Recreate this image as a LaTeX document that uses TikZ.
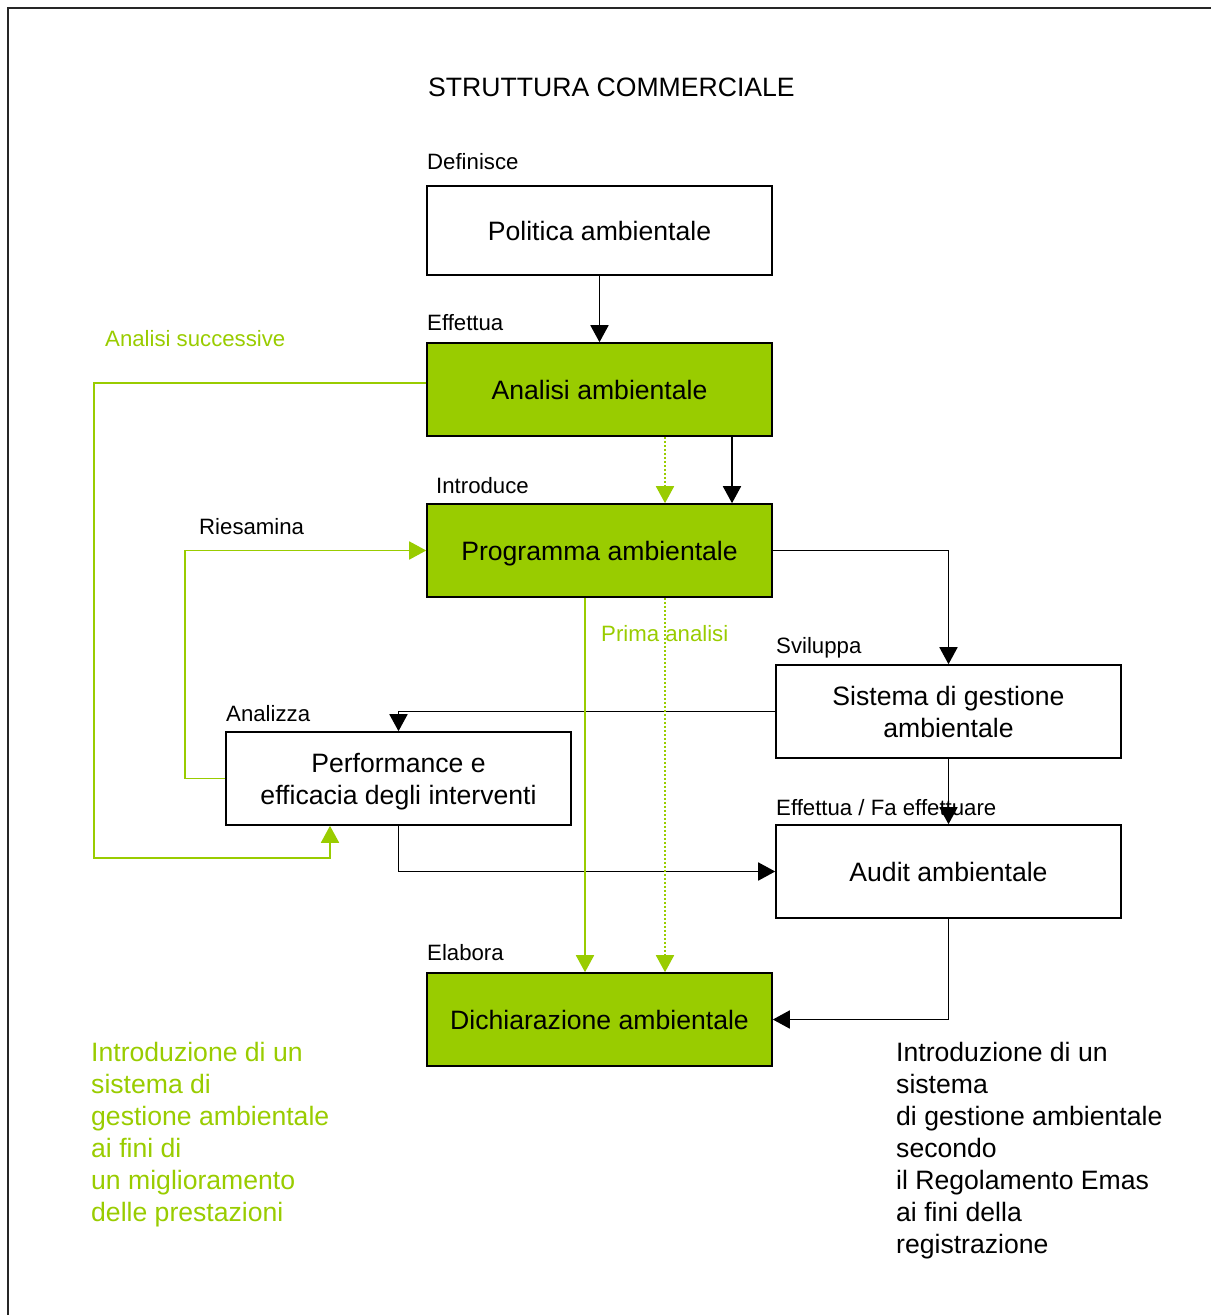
\documentclass[tikz,border=0pt]{standalone}
\usepackage{fontspec}
\setmainfont{Liberation Sans}
\usetikzlibrary{arrows.meta}
\definecolor{egreen}{HTML}{99CC00}
\begin{document}
\begin{tikzpicture}[x=1pt,y=-1pt,
  box/.style={draw=black,line width=1.6pt,minimum width=345pt,minimum height=92pt,inner sep=0pt,
    font=\fontsize{26.6}{32}\selectfont,align=center,text depth=0pt},
  gbox/.style={box,fill=egreen},
  lab/.style={anchor=base west,inner sep=0pt,font=\fontsize{22.2}{26}\selectfont},
  glab/.style={lab,text=egreen},
  arr/.style={line width=1.8pt,-{Triangle[width=18pt,length=17pt]}},
  garr/.style={arr,draw=egreen,color=egreen},
  gdot/.style={garr,dash pattern=on 2pt off 2pt},
  big/.style={inner sep=0pt,font=\fontsize{26.6}{32}\selectfont,align=left,anchor=north west}]
\useasboundingbox (0,0) rectangle (1211,1315);
\draw[line width=1.8pt,black!85] (8,1315) -- (8,8) -- (1211,8);

\node[anchor=base west,inner sep=0pt,font=\fontsize{26.6}{32}\selectfont] (title) at (428,96.5) {STRUTTURA COMMERCIALE};

\node[box,minimum height=89pt] (pol) at (599.5,230.5) {Politica ambientale};
\node[gbox,minimum height=93pt] (ana) at (599.5,389.5) {Analisi ambientale};
\node[gbox,minimum height=93pt] (prog) at (599.5,550.5) {Programma ambientale};
\node[box,minimum height=93pt] (sys) at (948.5,711.5) {Sistema di gestione\\ambientale};
\node[box,minimum height=93pt] (perf) at (398.5,778.5) {Performance e\\efficacia degli interventi};
\node[box,minimum height=93pt] (aud) at (948.5,871.5) {Audit ambientale};
\node[gbox,minimum height=93pt] (dich) at (599.5,1019.5) {Dichiarazione ambientale};

\node[lab] (l1) at (427,169) {Definisce};
\node[lab] (l2) at (427,330) {Effettua};
\node[lab] (l3) at (436,493) {Introduce};
\node[lab] (l4) at (199,534) {Riesamina};
\node[lab] (l5) at (226,721) {Analizza};
\node[lab] (l6) at (776,653) {Sviluppa};
\node[lab] (l7) at (776,815) {Effettua / Fa effettuare};
\node[lab] (l8) at (427,960) {Elabora};
\node[glab] (g1) at (105,346) {Analisi successive};
\node[glab] (g2) at (601,641) {Prima analisi};

\node[big,text=egreen] (nl) at (91,1042) {Introduzione di un\\sistema di\\gestione ambientale\\ai fini di\\un miglioramento\\delle prestazioni};
\node[big] (nr) at (896,1042) {Introduzione di un\\sistema\\di gestione ambientale\\secondo\\il Regolamento Emas\\ai fini della\\registrazione};

% black connectors
\draw[arr] (pol.south) -- (ana.north);
\draw[arr] (ana.south -| 732,0) -- (prog.north -| 732,0);
\draw[arr] (prog.east) -| (sys.north);
\draw[arr] (sys.west) -| (perf.north);
\draw[arr] (sys.south) -- (aud.north);
\draw[arr] (perf.south) |- (aud.west);
\draw[arr] (aud.south) |- (dich.east);

% green connectors
\draw[gdot] (ana.south -| 665,0) -- (prog.north -| 665,0);
\draw[garr] (prog.south -| 585,0) -- (dich.north -| 585,0);
\draw[gdot] (prog.south -| 665,0) -- (dich.north -| 665,0);
\draw[garr] (perf.west) -- (185,778.5) -- (185,550.5) -- (prog.west);
\draw[garr] (ana.west |- 0,383) -- (94,383) -- (94,858) -- (330,858) -- (perf.south -| 330,0);
\end{tikzpicture}
\end{document}
